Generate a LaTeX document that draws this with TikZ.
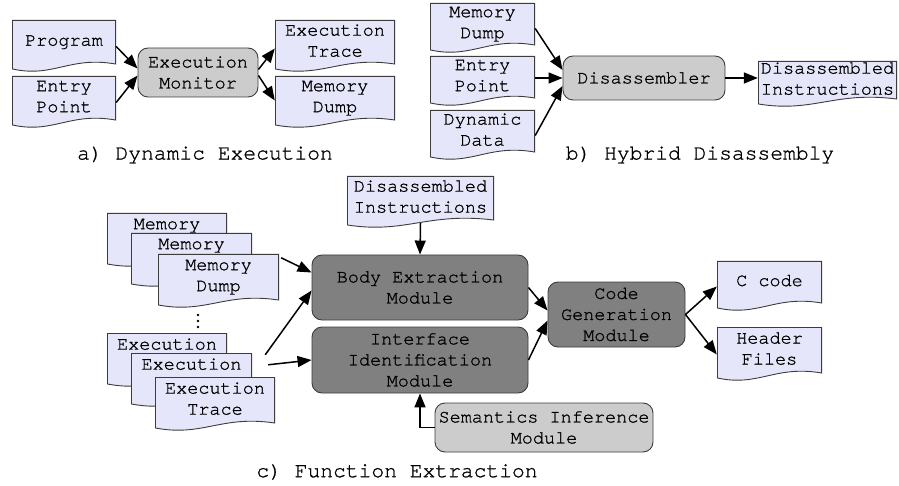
\documentclass[tikz,border=0pt]{standalone}
\usepackage{fontspec}
\newfontfamily\courfam[FakeBold=1]{TeX Gyre Cursor}
\usetikzlibrary{arrows.meta,calc}
\definecolor{docfill}{RGB}{230,230,250}
\definecolor{docline}{RGB}{60,60,60}
\definecolor{lightbox}{RGB}{204,204,204}
\definecolor{darkbox}{RGB}{128,128,128}
\newcommand{\cour}{\courfam\fontsize{18.5}{21}\selectfont}
\newcommand{\capfont}{\courfam\fontsize{21.3}{24}\selectfont}

\begin{document}
\begin{tikzpicture}[x=1pt,y=-1pt,
  doc/.style={inner sep=0pt, align=center, font=\cour, text depth=12pt,
    path picture={
      \draw[draw=docline, fill=docfill, line width=0.9pt]
        ([shift={(0.45pt,-0.45pt)}]path picture bounding box.north west)
        -- ([shift={(-0.45pt,-0.45pt)}]path picture bounding box.north east)
        -- ([shift={(-0.45pt,9pt)}]path picture bounding box.south east)
        .. controls ($(path picture bounding box.south east)!.45!(path picture bounding box.south west)+(0pt,17pt)$)
        and ($(path picture bounding box.south east)!.6!(path picture bounding box.south west)+(0pt,-5pt)$)
        .. ([shift={(0.45pt,4pt)}]path picture bounding box.south west) -- cycle;
    }},
  proc/.style={draw=docline, line width=0.9pt, rounded corners=10pt, align=center, font=\cour, inner sep=0pt},
  light/.style={proc, fill=lightbox},
  dark/.style={proc, fill=darkbox},
  arr/.style={-{Triangle[length=14pt,width=11pt]}, line width=1.5pt},
  caption/.style={font=\capfont}]
\useasboundingbox (0,0) rectangle (899,486);

% a) dynamic execution
\node[doc, minimum width=104pt, minimum height=53pt] (progA) at (64,46.5) {Program};
\node[doc, minimum width=104pt, minimum height=53pt] (entryA) at (64,102.5) {Entry\\Point};
\node[light, minimum width=120pt, minimum height=49pt] (monitor) at (198,72.5) {Execution\\Monitor};
\node[doc, minimum width=120pt, minimum height=53pt] (traceA) at (335,46.5) {Execution\\Trace};
\node[doc, minimum width=120pt, minimum height=53pt] (dumpA) at (335,102.5) {Memory\\Dump};
\node[caption] (capA) at (205,155) {a) Dynamic Execution};

\draw[arr] (progA.east) -- ([yshift=4pt]monitor.west);
\draw[arr] (entryA.east) -- ([yshift=-3pt]monitor.west);
\draw[arr] ([yshift=3pt]monitor.east) -- ([yshift=-2pt]traceA.west);
\draw[arr] ([yshift=-3pt]monitor.east) -- ([yshift=2pt]dumpA.west);

% b) hybrid disassembly
\node[doc, minimum width=105pt, minimum height=51pt] (dumpB) at (482.5,28.5) {Memory\\Dump};
\node[doc, minimum width=105pt, minimum height=51pt] (entryB) at (482.5,81.5) {Entry\\Point};
\node[doc, minimum width=105pt, minimum height=51pt] (dynB) at (482.5,135.5) {Dynamic\\Data};
\node[light, minimum width=162pt, minimum height=44pt] (disasm) at (644,78) {Disassembler};
\node[doc, minimum width=139pt, minimum height=47pt] (instrB) at (827.5,84.5) {Disassembled\\Instructions};
\node[caption] (capB) at (700,155) {b) Hybrid Disassembly};

\draw[arr] (dumpB.east) -- ([yshift=8pt]disasm.west);
\draw[arr] (entryB.east |- disasm.west) -- (disasm.west);
\draw[arr] (dynB.east) -- ([yshift=-8pt]disasm.west);
\draw[arr] (disasm.east) -- (disasm.east -| instrB.west);

% c) function extraction
\node[doc, minimum width=147pt, minimum height=53pt] (instrC) at (420.5,202.5) {Disassembled\\Instructions};
\node[dark, minimum width=216pt, minimum height=65pt] (body) at (420,287.5) {Body Extraction\\Module};
\node[dark, minimum width=216pt, minimum height=66pt] (iface) at (420,360) {Interface\\Identification\\Module};
\node[doc, minimum width=120pt, minimum height=55pt] (mem1) at (167,240.5) {Memory\\\phantom{Dump}};
\node[doc, minimum width=121pt, minimum height=55pt] (mem2) at (191.5,260.5) {Memory\\\phantom{Dump}};
\node[doc, minimum width=121pt, minimum height=55pt] (mem3) at (218.5,281.5) {Memory\\Dump};
\coordinate (dots) at (198,315);
\foreach \k in {0,1,2}
  \fill ([yshift=-6*\k pt]dots) circle [radius=1.3pt];
\node[doc, minimum width=120pt, minimum height=55pt] (ex1) at (167,360.5) {Execution\\\phantom{Trace}};
\node[doc, minimum width=121pt, minimum height=55pt] (ex2) at (191.5,380.5) {Execution\\\phantom{Trace}};
\node[doc, minimum width=120pt, minimum height=55pt] (ex3) at (215,404.5) {Execution\\Trace};
\node[light, minimum width=218pt, minimum height=49pt] (sem) at (544,427.5) {Semantics Inference\\Module};
\node[dark, minimum width=137pt, minimum height=65pt] (codegen) at (616.5,314.5) {Code\\Generation\\Module};
\node[doc, minimum width=105pt, minimum height=51pt] (ccode) at (769.5,286.5) {C code};
\node[doc, minimum width=105pt, minimum height=55pt] (header) at (769.5,354.5) {Header\\Files};
\node[caption] (capC) at (397,472) {c) Function Extraction};

\draw[arr] ([yshift=6pt]instrC.south) -- (body.north);
\draw[arr] ([shift={(2pt,-4pt)}]mem3.north east) -- ([yshift=15pt]body.west);
\draw[arr] ([shift={(13pt,-2pt)}]ex2.north east) -- ([yshift=-3pt]body.west);
\draw[arr] ([shift={(16pt,-12pt)}]ex2.north east) -- (iface.west);
\draw[arr] (body.east) -- ([yshift=4pt]codegen.west);
\draw[arr] (iface.east) -- ([yshift=-6pt]codegen.west);
\draw[arr] (codegen.east) -- (ccode.west);
\draw[arr] (codegen.east) -- (header.west);
\draw[arr] (sem.west) -| (iface.south);
\end{tikzpicture}
\end{document}
